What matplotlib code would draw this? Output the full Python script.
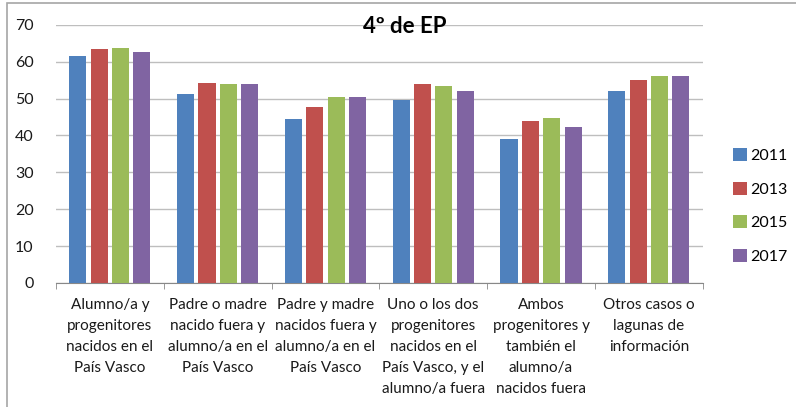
import matplotlib.pyplot as plt
import matplotlib.patches as mpatches
import numpy as np

plt.rcParams['font.family'] = ['Lato', 'DejaVu Sans']

CATEGORIES = [
    "Alumno/a y\nprogenitores\nnacidos en el\nPaís Vasco",
    "Padre o madre\nnacido fuera y\nalumno/a en el\nPaís Vasco",
    "Padre y madre\nnacidos fuera y\nalumno/a en el\nPaís Vasco",
    "Uno o los dos\nprogenitores\nnacidos en el\nPaís Vasco, y el\nalumno/a fuera",
    "Ambos\nprogenitores y\ntambién el\nalumno/a\nnacidos fuera",
    "Otros casos o\nlagunas de\ninformación",
]
YEARS = ["2011", "2013", "2015", "2017"]
V2011 = [61.4, 51.1, 44.4, 49.6, 39.0, 51.9]
V2013 = [63.3, 54.3, 47.7, 53.8, 43.9, 55.0]
V2015 = [63.7, 53.8, 50.4, 53.4, 44.7, 56.1]
V2017 = [62.6, 53.8, 50.4, 51.9, 42.4, 56.1]
COLORS = ['#4F81BD', '#C0504D', '#9BBB59', '#8064A2']

W, H = 796, 407
fig = plt.figure(figsize=(W / 100, H / 100), dpi=100)
ax = fig.add_axes([56 / W, 1 - 283 / H, (702.7 - 56) / W, (283 - 24.7) / H])

# outer chart frame
fig.patches.append(mpatches.Rectangle((7 / W, -0.1), 1.2, 1 - 3 / H + 0.1,
                                      transform=fig.transFigure, fill=False,
                                      edgecolor='#A6A6A6', linewidth=1.2))

x = np.arange(len(CATEGORIES))
pitch = 0.198
for i, (vals, col, yr) in enumerate(zip([V2011, V2013, V2015, V2017], COLORS, YEARS)):
    ax.bar(x + (i - 1.5) * pitch, vals, width=0.158, color=col, label=yr, zorder=3)

ax.set_xlim(-0.5, len(CATEGORIES) - 0.5)
ax.set_ylim(0, 70)
ax.set_yticks(range(0, 71, 10))
ax.yaxis.grid(True, color='#BEBEBE', linewidth=1, zorder=0)
ax.tick_params(axis='y', length=0, pad=16, labelsize=11.5, labelcolor='#1a1a1a')

ax.set_xticks(x)
ax.set_xticklabels(CATEGORIES, fontsize=11, linespacing=1.62, color='#1a1a1a')
ax.set_xticks(np.arange(-0.5, len(CATEGORIES)), minor=True)
ax.tick_params(axis='x', which='major', length=0, pad=11)
ax.tick_params(axis='x', which='minor', length=4, color='#888888', direction='out')

for s in ['top', 'right', 'left']:
    ax.spines[s].set_visible(False)
ax.spines['bottom'].set_color('#888888')

ax.set_title("4º de EP", fontsize=16, fontweight='bold', x=(405 - 56) / (702.7 - 56),
             y=(283 - 35) / (283 - 24.7), va='center')

leg = ax.legend(loc='center left', bbox_to_anchor=(1.037, 0.298), frameon=False,
                fontsize=11.5, handlelength=0.9, handleheight=0.9, handletextpad=0.15,
                labelspacing=1.15, borderaxespad=0)

fig.savefig('out.png', dpi=100)
